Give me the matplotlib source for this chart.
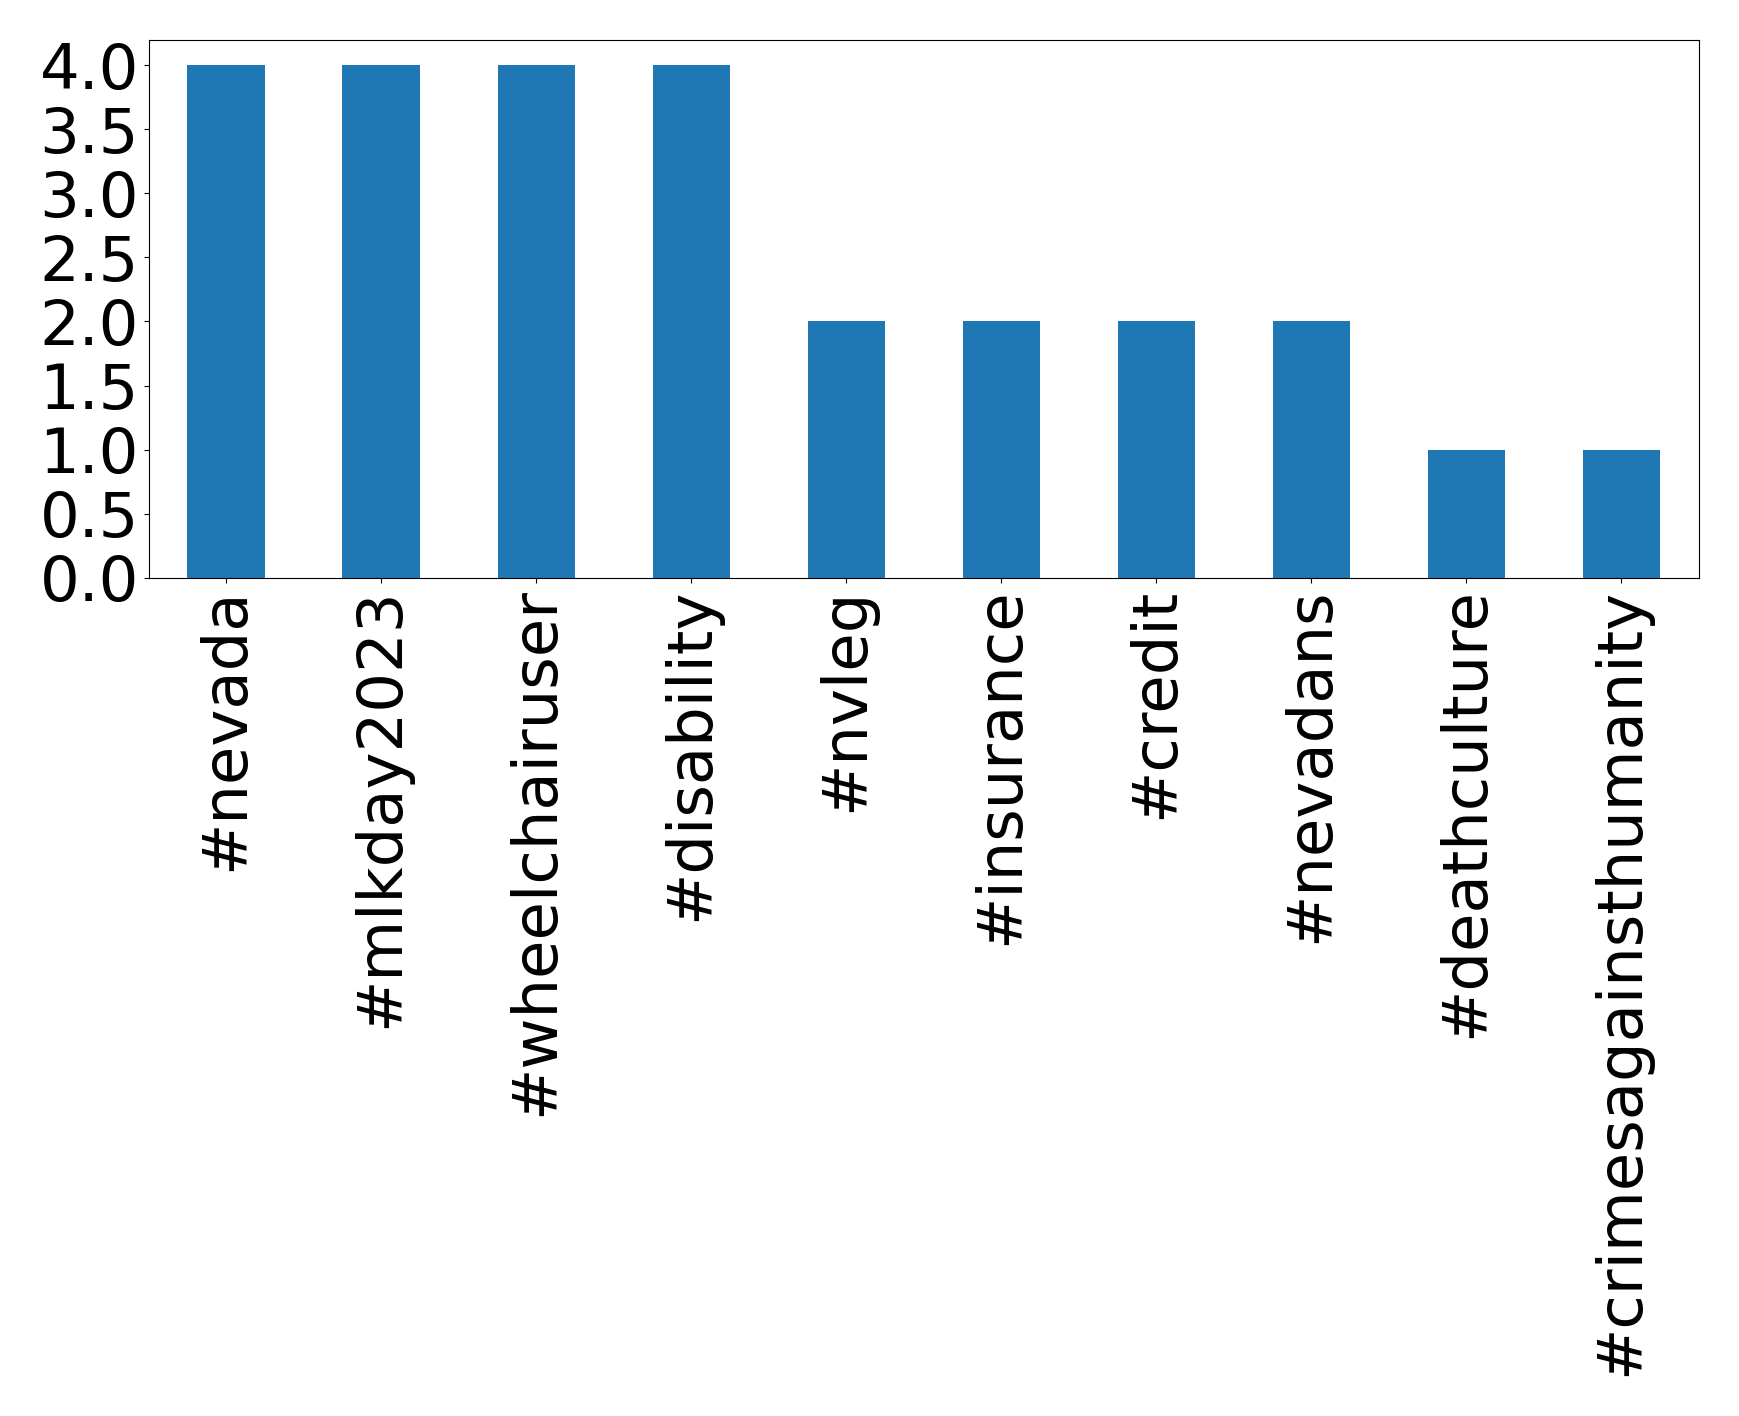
import matplotlib
matplotlib.use("Agg")
import matplotlib.pyplot as plt

hashtags = ["#nevada", "#mlkday2023", "#wheelchairuser", "#disability", "#nvleg",
            "#insurance", "#credit", "#nevadans", "#deathculture", "#crimesagainsthumanity"]
counts = [4, 4, 4, 4, 2, 2, 2, 2, 1, 1]

fig = plt.figure(figsize=(17.39, 14.16), dpi=100)
ax = fig.add_axes([0.0855, 0.592, 0.977 - 0.0855, 0.972 - 0.592])
x = list(range(len(hashtags)))
ax.bar(x, counts, width=0.5, color="#1f77b4")
ax.set_xlim(-0.5, len(hashtags) - 0.5)
ax.set_ylim(0, 4.2)
ax.set_yticks([0, 0.5, 1.0, 1.5, 2.0, 2.5, 3.0, 3.5, 4.0])
ax.set_yticklabels(["0.0", "0.5", "1.0", "1.5", "2.0", "2.5", "3.0", "3.5", "4.0"])
ax.set_xticks(x)
ax.set_xticklabels(hashtags, rotation=90)
ax.tick_params(labelsize=45)
fig.savefig("out.png", dpi=100)
